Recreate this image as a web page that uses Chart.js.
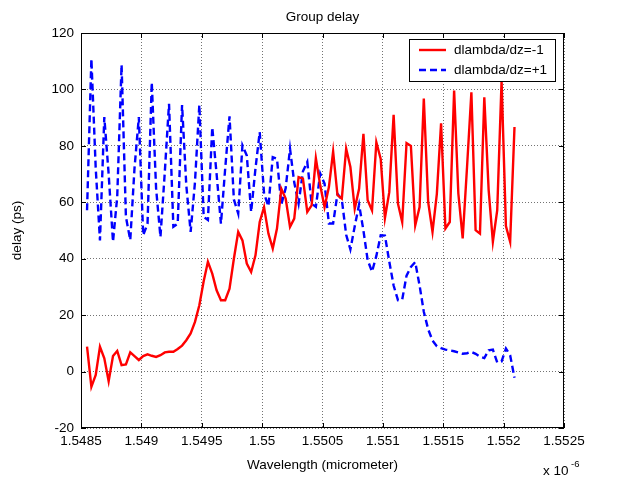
<!DOCTYPE html>
<html>
<head>
<meta charset="utf-8">
<script src="https://cdn.jsdelivr.net/npm/chart.js@4.4.0/dist/chart.umd.min.js"></script>
<style>
  html, body { margin: 0; padding: 0; background: #fff; }
</style>
</head>
<body>
<canvas id="chart" width="620" height="478"></canvas>
<script>
// wavelength in nm (axis shows micrometre x 10^-6 like the matlab figure)
const wavelength = [
  1548.550, 1548.586, 1548.622, 1548.657, 1548.693, 1548.729, 1548.765, 1548.800, 1548.836, 1548.872,
  1548.908, 1548.943, 1548.979, 1549.015, 1549.051, 1549.086, 1549.122, 1549.158, 1549.194, 1549.229,
  1549.265, 1549.301, 1549.337, 1549.372, 1549.408, 1549.444, 1549.480, 1549.516, 1549.551, 1549.587,
  1549.623, 1549.659, 1549.694, 1549.730, 1549.766, 1549.802, 1549.837, 1549.873, 1549.909, 1549.945,
  1549.980, 1550.016, 1550.052, 1550.088, 1550.123, 1550.159, 1550.195, 1550.231, 1550.266, 1550.302,
  1550.338, 1550.374, 1550.410, 1550.445, 1550.481, 1550.517, 1550.553, 1550.588, 1550.624, 1550.660,
  1550.696, 1550.731, 1550.767, 1550.803, 1550.839, 1550.874, 1550.910, 1550.946, 1550.982, 1551.017,
  1551.053, 1551.089, 1551.125, 1551.160, 1551.196, 1551.232, 1551.268, 1551.304, 1551.339, 1551.375,
  1551.411, 1551.447, 1551.482, 1551.518, 1551.554, 1551.590, 1551.625, 1551.661, 1551.697, 1551.733,
  1551.768, 1551.804, 1551.840, 1551.876, 1551.911, 1551.947, 1551.983, 1552.019, 1552.054, 1552.090,
]

// group delay (ps), dlambda/dz = -1
const delayMinus = [
  8.8, -5.4, -1.2, 8.8, 4.7, -3.4, 5.5, 7.3, 2.3, 2.5,
  6.8, 5.5, 4.1, 5.5, 6.1, 5.6, 5.2, 5.8, 6.8, 7.0,
  7.0, 8.0, 9.2, 11.1, 13.5, 17.6, 23.5, 32.0, 38.9, 34.7,
  28.8, 25.3, 25.3, 29.4, 40.0, 49.5, 46.5, 38.3, 35.3, 41.2,
  53.0, 58.3, 48.9, 43.6, 50.7, 64.8, 61.3, 51.3, 54.2, 68.9,
  68.4, 56.6, 58.9, 75.6, 66.0, 58.3, 65.4, 78.0, 62.5, 61.3,
  79.0, 72.5, 57.7, 64.8, 84.3, 60.7, 57.1, 81.3, 75.4, 54.4,
  63.6, 91.0, 59.5, 53.0, 81.0, 80.0, 51.8, 58.3, 96.8, 60.1,
  49.5, 63.0, 88.0, 50.7, 53.0, 99.6, 63.1, 47.2, 72.5, 99.0,
  50.1, 48.9, 97.2, 64.3, 46.0, 57.2, 103.0, 51.6, 46.0, 86.7,
]

// group delay (ps), dlambda/dz = +1
const delayPlus = [
  57.2, 110.8, 72.0, 46.5, 90.2, 70.0, 46.0, 62.0, 108.7, 54.8,
  46.6, 72.0, 90.2, 48.3, 52.4, 102.5, 64.8, 47.7, 70.7, 94.9,
  51.3, 52.4, 94.5, 66.0, 49.5, 67.2, 94.5, 54.8, 53.7, 86.6,
  70.0, 52.4, 71.9, 90.5, 61.0, 56.0, 80.2, 76.6, 56.6, 72.0,
  84.9, 63.0, 58.6, 76.0, 75.4, 59.2, 65.0, 79.0, 67.0, 59.5,
  71.0, 74.3, 59.5, 58.4, 70.2, 66.6, 52.5, 52.5, 63.0, 61.0,
  48.5, 43.3, 51.5, 59.2, 50.0, 39.5, 35.4, 41.0, 48.3, 48.2,
  39.0, 30.5, 25.3, 25.5, 34.0, 37.1, 38.8, 30.5, 21.2, 15.0,
  11.0, 9.0, 8.3, 7.8, 7.5, 7.2, 6.8, 6.3, 6.5, 7.0,
  6.3, 5.3, 4.8, 7.5, 7.8, 3.2, 3.6, 8.2, 5.8, -2.2,
]

const seriesNames = ['dlambda/dz=-1', 'dlambda/dz=+1']
const xTicks = [1548.5, 1549, 1549.5, 1550, 1550.5, 1551, 1551.5, 1552, 1552.5]
const xTickLabels = ['1.5485', '1.549', '1.5495', '1.55', '1.5505', '1.551', '1.5515', '1.552', '1.5525']
const yTicks = [-20, 0, 20, 40, 60, 80, 100, 120]
const chartTitle = 'Group delay'

const FAMILY = '"Liberation Sans", Arial, Helvetica, sans-serif'
const font = { family: FAMILY, size: 13.5 }
const gridColor = 'rgba(0,0,0,0.55)'

// matlab style box, inward ticks, title, legend and the x 10^-6 note
const matlabAxes = {
  id: 'matlabAxes',
  afterDatasetsDraw(chart) {
    const { ctx, chartArea: a, scales } = chart
    const sx = scales.x
    const sy = scales.y
    ctx.save()
    ctx.setLineDash([])
    ctx.strokeStyle = '#000'
    ctx.lineWidth = 1

    ctx.beginPath()
    xTicks.forEach((v) => {
      const px = Math.round(sx.getPixelForValue(v)) + 0.5
      ctx.moveTo(px, a.bottom)
      ctx.lineTo(px, a.bottom - 5)
      ctx.moveTo(px, a.top)
      ctx.lineTo(px, a.top + 5)
    })
    yTicks.forEach((v) => {
      const py = Math.round(sy.getPixelForValue(v)) + 0.5
      ctx.moveTo(a.left, py)
      ctx.lineTo(a.left + 5, py)
      ctx.moveTo(a.right, py)
      ctx.lineTo(a.right - 5, py)
    })
    ctx.stroke()
    ctx.strokeRect(Math.round(a.left) + 0.5, Math.round(a.top) + 0.5,
      Math.round(a.width) - 1, Math.round(a.height) - 1)

    // title, centred over the axes like matlab
    ctx.fillStyle = '#000'
    ctx.font = '13.5px ' + FAMILY
    ctx.textAlign = 'center'
    ctx.textBaseline = 'middle'
    ctx.fillText(chartTitle, (a.left + a.right) / 2, a.top - 16)
    ctx.textAlign = 'left'

    // legend
    const lw = 146
    const lh = 42
    const lx = Math.round(a.right) - 9 - lw
    const ly = Math.round(a.top) + 6
    ctx.fillStyle = '#fff'
    ctx.fillRect(lx, ly, lw, lh)
    ctx.strokeRect(lx + 0.5, ly + 0.5, lw, lh)
    chart.data.datasets.forEach((ds, i) => {
      const yy = ly + 11 + i * 20
      ctx.save()
      ctx.strokeStyle = ds.borderColor
      ctx.lineWidth = ds.borderWidth
      ctx.setLineDash(ds.borderDash || [])
      ctx.beginPath()
      ctx.moveTo(lx + 10, yy)
      ctx.lineTo(lx + 37, yy)
      ctx.stroke()
      ctx.restore()
      ctx.fillStyle = '#000'
      ctx.fillText(ds.label, lx + 45, yy)
    })

    // exponent note
    ctx.fillStyle = '#000'
    ctx.textBaseline = 'alphabetic'
    ctx.font = '13.5px ' + FAMILY
    ctx.fillText('x 10', 543, 475)
    ctx.font = '9.5px ' + FAMILY
    ctx.fillText('-6', 571, 467)
    ctx.restore()
  },
}

const ctx = document.getElementById('chart').getContext('2d')
new Chart(ctx, {
  type: 'line',
  data: {
    datasets: [
      {
        label: seriesNames[0],
        data: wavelength.map((w, i) => ({ x: w, y: delayMinus[i] })),
        borderColor: '#ff0000',
        borderWidth: 2.4,
        pointRadius: 0,
        tension: 0,
        fill: false,
      },
      {
        label: seriesNames[1],
        data: wavelength.map((w, i) => ({ x: w, y: delayPlus[i] })),
        borderColor: '#0000ff',
        borderWidth: 2.4,
        borderDash: [7, 4],
        pointRadius: 0,
        tension: 0,
        fill: false,
      },
    ],
  },
  plugins: [matlabAxes],
  options: {
    responsive: false,
    animation: false,
    devicePixelRatio: 1,
    layout: { padding: { left: 0, right: 56, top: 33, bottom: 0 } },
    plugins: {
      legend: { display: false },
      tooltip: { enabled: false },
      title: { display: false },
    },
    scales: {
      x: {
        type: 'linear',
        min: 1548.5,
        max: 1552.5,
        afterBuildTicks: (s) => { s.ticks = xTicks.map((v) => ({ value: v })) },
        afterFit: (s) => { s.height = 50 },
        ticks: {
          autoSkip: false,
          maxRotation: 0,
          padding: 5,
          color: '#000',
          font,
          callback: (v, i) => xTickLabels[i],
        },
        grid: { color: gridColor, lineWidth: 1, drawTicks: false },
        border: { display: false, dash: [1, 2] },
        title: {
          display: true,
          text: 'Wavelength (micrometer)',
          color: '#000',
          font,
          padding: { top: 0, bottom: 5 },
        },
      },
      y: {
        min: -20,
        max: 120,
        afterBuildTicks: (s) => { s.ticks = yTicks.map((v) => ({ value: v })) },
        afterFit: (s) => { s.width = 81 },
        ticks: { padding: 7, color: '#000', font },
        grid: { color: gridColor, lineWidth: 1, drawTicks: false },
        border: { display: false, dash: [1, 2] },
        title: {
          display: true,
          text: 'delay (ps)',
          color: '#000',
          font,
          padding: { top: 9, bottom: 0 },
        },
      },
    },
  },
})
</script>
</body>
</html>
